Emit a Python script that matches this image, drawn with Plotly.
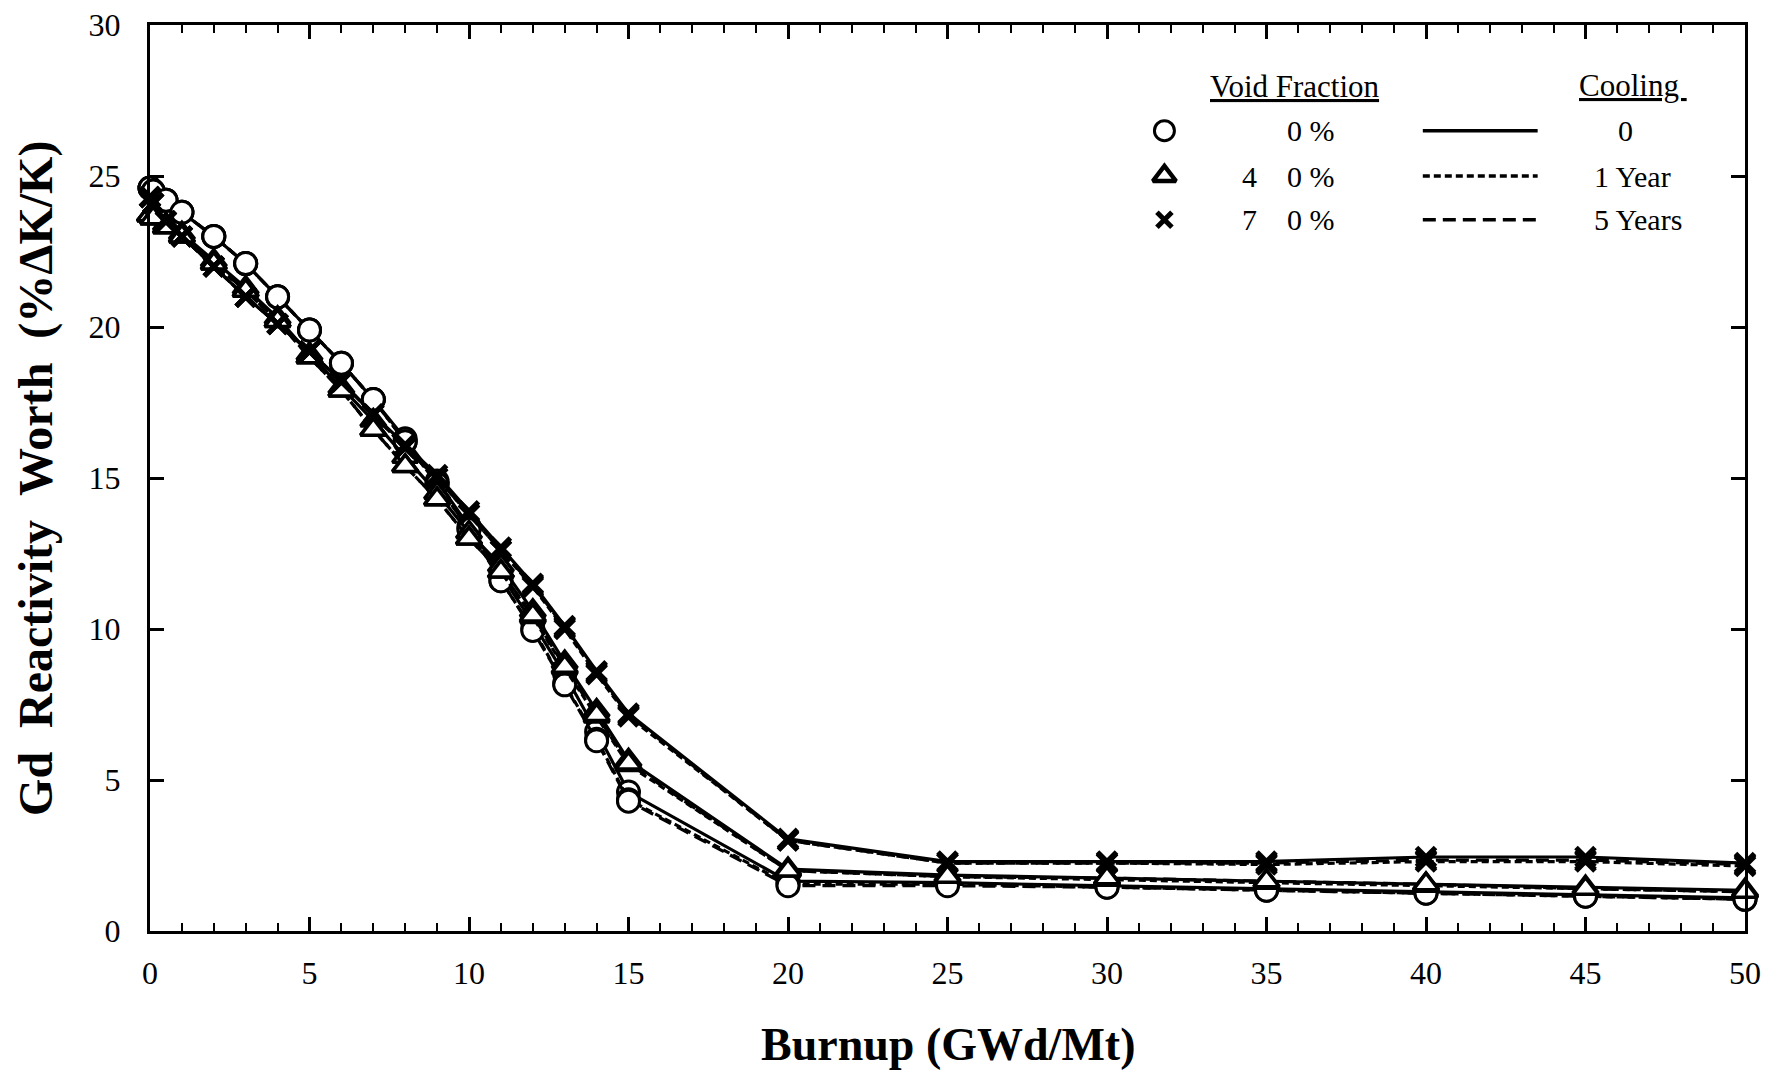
import plotly.graph_objects as go

# ---------------- data ----------------
burnup = [0, 0.1, 0.5, 1, 2, 3, 4, 5, 6, 7, 8, 9, 10, 11, 12, 13, 14, 15,
          20, 25, 30, 35, 40, 45, 50]

v0_c0 = [24.6, 24.5, 24.2, 23.8, 23.0, 22.1, 21.0, 19.9, 18.8, 17.6, 16.3, 14.9, 13.4,
         11.8, 10.2, 8.5, 6.6, 4.6, 1.65, 1.6, 1.5, 1.4, 1.3, 1.2, 1.1]
v0_c1 = [24.6, 24.5, 24.2, 23.8, 23.0, 22.1, 21.0, 19.9, 18.8, 17.6, 16.2, 14.8, 13.3,
         11.6, 10.0, 8.2, 6.35, 4.35, 1.55, 1.55, 1.45, 1.35, 1.25, 1.15, 1.05]
v0_c5 = [24.6, 24.5, 24.2, 23.8, 23.0, 22.1, 21.0, 19.9, 18.8, 17.6, 16.2, 14.8, 13.3,
         11.6, 9.95, 8.15, 6.3, 4.3, 1.5, 1.5, 1.45, 1.35, 1.25, 1.15, 1.05]

v40_c0 = [23.7, 23.6, 23.4, 23.1, 22.2, 21.3, 20.3, 19.1, 18.0, 16.9, 15.7, 14.5, 13.2,
          12.1, 10.6, 8.9, 7.3, 5.65, 2.05, 1.85, 1.75, 1.65, 1.55, 1.45, 1.35]
v40_c1 = [23.7, 23.6, 23.3, 23.0, 22.1, 21.2, 20.2, 19.0, 17.9, 16.6, 15.4, 14.3, 13.0,
          11.9, 10.4, 8.7, 7.1, 5.5, 2.0, 1.8, 1.7, 1.6, 1.5, 1.4, 1.3]
v40_c5 = [23.7, 23.6, 23.3, 23.0, 22.1, 21.2, 20.2, 19.0, 17.9, 16.6, 15.4, 14.3, 13.0,
          11.9, 10.45, 8.75, 7.15, 5.55, 2.0, 1.8, 1.75, 1.65, 1.55, 1.4, 1.3]

v70_c0 = [24.3, 24.1, 23.5, 23.0, 22.0, 21.0, 20.1, 19.2, 18.2, 17.1, 16.1, 15.1, 13.9,
          12.7, 11.5, 10.1, 8.6, 7.2, 3.05, 2.3, 2.3, 2.3, 2.45, 2.45, 2.25]
v70_c1 = [24.3, 24.1, 23.5, 23.0, 22.0, 21.0, 20.1, 19.2, 18.2, 17.1, 16.0, 15.0, 13.8,
          12.6, 11.4, 10.0, 8.5, 7.1, 3.0, 2.25, 2.25, 2.2, 2.3, 2.3, 2.15]
v70_c5 = [24.3, 24.1, 23.5, 23.0, 22.0, 21.0, 20.1, 19.2, 18.2, 17.1, 16.0, 15.0, 13.8,
          12.6, 11.45, 10.05, 8.55, 7.15, 3.0, 2.25, 2.25, 2.25, 2.35, 2.35, 2.2]

void_labels = ["0\u00a0%", "4\u00a0\u00a0\u00a0\u00a00\u00a0%", "7\u00a0\u00a0\u00a0\u00a00\u00a0%"]
cooling_labels = ["0", "1 Year", "5 Years"]
x_ticks = [0, 5, 10, 15, 20, 25, 30, 35, 40, 45, 50]
y_ticks = [0, 5, 10, 15, 20, 25, 30]

# ---------------- styles ----------------
FONT = "Liberation Serif"
BLACK = "black"
marker_styles = [
    dict(symbol="circle", size=22, color="white", line=dict(color=BLACK, width=3)),
    dict(symbol="triangle-up", size=22, color="white", line=dict(color=BLACK, width=3.5)),
    dict(symbol="x-thin", size=19, color=BLACK, line=dict(color=BLACK, width=5)),
]
dash_styles = ["solid", "7px,4px", "13px,7px"]

series = [
    [v0_c0, v0_c1, v0_c5],
    [v40_c0, v40_c1, v40_c5],
    [v70_c0, v70_c1, v70_c5],
]

fig = go.Figure()
for vi, group in enumerate(series):
    for ci, vals in enumerate(group):
        fig.add_trace(go.Scatter(
            x=burnup, y=vals, mode="lines+markers",
            line=dict(color=BLACK, width=3.2, dash=dash_styles[ci]),
            marker=marker_styles[vi],
            cliponaxis=False, showlegend=False,
            name=f"{void_labels[vi]} / {cooling_labels[ci]}",
        ))

# ---------------- custom legend (data coordinates) ----------------
leg_rows = [26.5, 25.0, 23.55]
leg_sym_x = 31.8
leg_txt_x = 37.2
leg_line_x0, leg_line_x1 = 39.9, 43.5
leg_cool_x = 45.2

legend_markers = [
    dict(symbol="circle", size=20, color="white", line=dict(color=BLACK, width=3)),
    dict(symbol="triangle-up", size=20, color="white", line=dict(color=BLACK, width=4.5)),
    dict(symbol="x-thin", size=15, color=BLACK, line=dict(color=BLACK, width=5)),
]

for vi in range(3):
    fig.add_trace(go.Scatter(x=[leg_sym_x], y=[leg_rows[vi]], mode="markers",
                             marker=legend_markers[vi], showlegend=False,
                             hoverinfo="skip", cliponaxis=False))
    fig.add_annotation(x=leg_txt_x, y=leg_rows[vi], text=void_labels[vi],
                       xanchor="right", yanchor="middle", showarrow=False,
                       font=dict(family=FONT, size=30, color=BLACK))
    fig.add_shape(type="line", x0=leg_line_x0, x1=leg_line_x1,
                  y0=leg_rows[vi], y1=leg_rows[vi], xref="x", yref="y",
                  line=dict(color=BLACK, width=3.5, dash=dash_styles[vi]))
    if vi == 0:
        fig.add_annotation(x=46.25, y=leg_rows[vi], text=cooling_labels[vi],
                           xanchor="center", yanchor="middle", showarrow=False,
                           font=dict(family=FONT, size=30, color=BLACK))
    else:
        fig.add_annotation(x=leg_cool_x, y=leg_rows[vi], text=cooling_labels[vi],
                           xanchor="left", yanchor="middle", showarrow=False,
                           font=dict(family=FONT, size=30, color=BLACK))

fig.add_annotation(x=35.9, y=27.95, text="<u>Void Fraction</u>", xanchor="center",
                   yanchor="middle", showarrow=False,
                   font=dict(family=FONT, size=31, color=BLACK))
fig.add_annotation(x=46.5, y=28.0, text="<u>Cooling\u00a0</u>", xanchor="center",
                   yanchor="middle", showarrow=False,
                   font=dict(family=FONT, size=31, color=BLACK))

# ---------------- axis titles ----------------
fig.add_annotation(xref="paper", yref="paper", x=0.5, y=-0.125,
                   text="<b>Burnup (GWd/Mt)</b>", showarrow=False,
                   xanchor="center", yanchor="middle",
                   font=dict(family=FONT, size=46, color=BLACK))
fig.add_annotation(xref="paper", yref="paper", x=-0.0715, y=0.5,
                   text="<b>Gd\u00a0\u00a0Reactivity\u00a0\u00a0Worth\u00a0\u00a0(%\u0394K/K)</b>",
                   showarrow=False, textangle=-90,
                   xanchor="center", yanchor="middle",
                   font=dict(family=FONT, size=48, color=BLACK))

axis_common = dict(
    showline=True, linecolor=BLACK, linewidth=3, mirror="allticks",
    showgrid=False, zeroline=False, ticks="inside", tickcolor=BLACK,
    tickwidth=2.5, ticklen=14,
    tickfont=dict(family=FONT, size=32, color=BLACK),
)

fig.update_xaxes(range=[0, 50], tickvals=x_ticks, ticklabelstandoff=12,
                 minor=dict(ticks="inside", dtick=1, ticklen=8, tickwidth=2,
                            tickcolor=BLACK, showgrid=False),
                 **axis_common)
fig.update_yaxes(range=[0, 30], tickvals=y_ticks, ticklabelstandoff=20,
                 ticklabeloverflow="allow", **axis_common)

fig.update_layout(
    width=1774, height=1073,
    margin=dict(l=142, r=37, t=17, b=150, autoexpand=False),
    paper_bgcolor="white", plot_bgcolor="white",
    font=dict(family=FONT, color=BLACK),
    showlegend=False,
)

fig.write_html("out.html")
